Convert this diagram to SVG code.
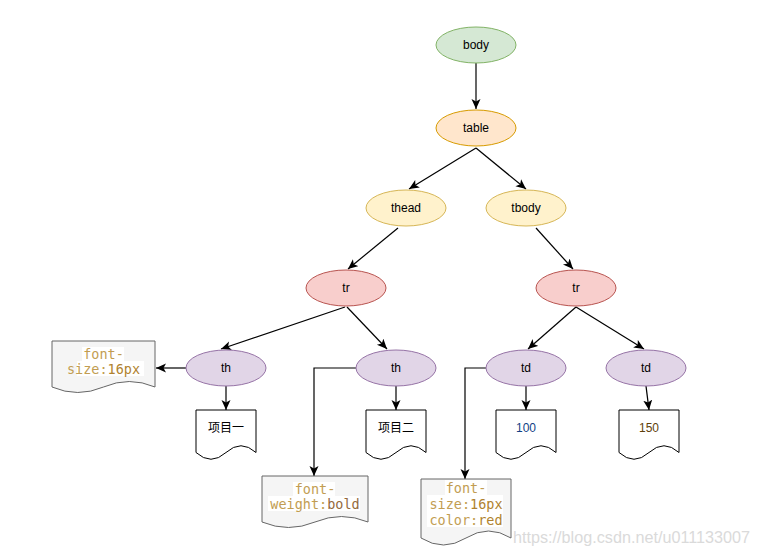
<svg xmlns="http://www.w3.org/2000/svg" width="759" height="555" viewBox="0 0 759 555">
<defs>
<marker id="arr" markerUnits="userSpaceOnUse" markerWidth="12" markerHeight="10" refX="10" refY="4.5" orient="auto">
<path d="M0,0 L10,4.5 L0,9 L2.5,4.5 Z" fill="#000"/>
</marker>
<style>
.lbl{font-family:Helvetica,"Liberation Sans",Arial,sans-serif;font-size:12px;fill:#000;text-anchor:middle;dominant-baseline:central}
.cjk{font-family:"Liberation Sans","Noto Sans CJK SC",sans-serif}
.edge{fill:none;stroke:#000;stroke-width:1.2;marker-end:url(#arr)}
.doc{fill:#fff;stroke:#000;stroke-width:1}
.code{fill:#f5f5f5;stroke:#666;stroke-width:1}
.mono{font-family:"DejaVu Sans Mono","Liberation Mono",monospace;font-size:13.5px;text-anchor:middle;dominant-baseline:central}
.k{fill:#c29d52}
.v{fill:#b0822e}
.b{fill:#94693d}
.hl{fill:#fff}
.green{fill:#d5e8d4;stroke:#82b366}
.orange{fill:#ffe6cc;stroke:#d79b00}
.yellow{fill:#fff2cc;stroke:#d6b656}
.red{fill:#f8cecc;stroke:#b85450}
.purple{fill:#e1d5e7;stroke:#9673a6}
</style>
</defs>
<rect width="759" height="555" fill="#fff"/>

<g id="connectors">
<line class="edge" x1="476" y1="63" x2="476" y2="109"/>
<line class="edge" x1="476" y1="148" x2="409" y2="189"/>
<line class="edge" x1="476" y1="148" x2="526" y2="189"/>
<line class="edge" x1="398" y1="228" x2="348" y2="269"/>
<line class="edge" x1="536" y1="228" x2="573" y2="269"/>
<line class="edge" x1="345" y1="307" x2="221" y2="349"/>
<line class="edge" x1="347" y1="307" x2="387" y2="349"/>
<line class="edge" x1="576" y1="307" x2="528" y2="349"/>
<line class="edge" x1="576" y1="307" x2="644" y2="349"/>
<line class="edge" x1="186" y1="368" x2="156" y2="368"/>
<line class="edge" x1="226" y1="386" x2="226" y2="410"/>
<line class="edge" x1="396" y1="386" x2="396" y2="410"/>
<path class="edge" d="M356,368 H314 V476"/>
<line class="edge" x1="526" y1="386" x2="526" y2="410"/>
<path class="edge" d="M486,368 H465 V479"/>
<line class="edge" x1="646" y1="386" x2="649" y2="410"/>
</g>

<g id="body"><ellipse class="green" cx="476" cy="45" rx="40" ry="18"/><text class="lbl" x="476" y="45">body</text></g>
<g id="table"><ellipse class="orange" cx="476" cy="128" rx="40" ry="18"/><text class="lbl" x="476" y="128">table</text></g>
<g id="thead"><ellipse class="yellow" cx="406" cy="208" rx="40" ry="18"/><text class="lbl" x="406" y="208">thead</text></g>
<g id="tbody"><ellipse class="yellow" cx="526" cy="208" rx="40" ry="18"/><text class="lbl" x="526" y="208">tbody</text></g>
<g id="tr1"><ellipse class="red" cx="346" cy="288" rx="40" ry="18"/><text class="lbl" x="346" y="288">tr</text></g>
<g id="tr2"><ellipse class="red" cx="576" cy="288" rx="40" ry="18"/><text class="lbl" x="576" y="288">tr</text></g>
<g id="th1"><ellipse class="purple" cx="226" cy="368" rx="40" ry="18"/><text class="lbl" x="226" y="368">th</text></g>
<g id="th2"><ellipse class="purple" cx="396" cy="368" rx="40" ry="18"/><text class="lbl" x="396" y="368">th</text></g>
<g id="td1"><ellipse class="purple" cx="526" cy="368" rx="40" ry="18"/><text class="lbl" x="526" y="368">td</text></g>
<g id="td2"><ellipse class="purple" cx="646" cy="368" rx="40" ry="18"/><text class="lbl" x="646" y="368">td</text></g>

<g id="doc-item1"><path class="doc" d="M196,410 H256 V452.5 Q241,439 226,452.5 Q211,466 196,452.5 Z"/><text class="lbl cjk" x="226" y="428">项目一</text></g>
<g id="doc-item2"><path class="doc" d="M366,410 H426 V452.5 Q411,439 396,452.5 Q381,466 366,452.5 Z"/><text class="lbl cjk" x="396" y="428">项目二</text></g>
<g id="doc-100"><path class="doc" d="M496,410 H556 V452.5 Q541,439 526,452.5 Q511,466 496,452.5 Z"/><text class="lbl" x="526" y="428" style="fill:#123f85">100</text></g>
<g id="doc-150"><path class="doc" d="M619,410 H679 V452.5 Q664,439 649,452.5 Q634,466 619,452.5 Z"/><text class="lbl" x="649" y="428" style="fill:#5e3f0a">150</text></g>

<g id="doc-fontsize">
<path class="code" d="M52,341 H155 V387 Q129.25,376 103.5,387 Q77.75,398 52,387 Z"/>
<rect class="hl" x="82" y="347" width="42" height="14"/>
<rect class="hl" x="77" y="361" width="67" height="15"/>
<text class="mono" x="103.5" y="354"><tspan class="k">font-</tspan></text>
<text class="mono" x="103.5" y="369"><tspan class="k">size:</tspan><tspan class="v">16px</tspan></text>
</g>

<g id="doc-fontweight">
<path class="code" d="M262,476 H368 V522 Q341.5,511 315,522 Q288.5,533 262,522 Z"/>
<rect class="hl" x="293" y="482" width="42" height="14"/>
<rect class="hl" x="268" y="496" width="92" height="15"/>
<text class="mono" x="315" y="489"><tspan class="k">font-</tspan></text>
<text class="mono" x="315" y="503.5"><tspan class="k">weight:</tspan><tspan class="b">bold</tspan></text>
</g>

<g id="doc-fontcolor">
<path class="code" d="M421,479 H511 V538 Q488.5,524 466,538 Q443.5,552 421,538 Z"/>
<rect class="hl" x="445" y="480" width="42" height="15"/>
<rect class="hl" x="427" y="495" width="76" height="16"/>
<rect class="hl" x="427" y="511" width="76" height="16"/>
<text class="mono" x="466" y="487.5"><tspan class="k">font-</tspan></text>
<text class="mono" x="466" y="503.5"><tspan class="k">size:</tspan><tspan class="v">16px</tspan></text>
<text class="mono" x="466" y="519.5"><tspan class="k">color:</tspan><tspan class="v">red</tspan></text>
</g>

<text x="513" y="543" style="font-family:'Liberation Sans',Arial,sans-serif;font-size:16.2px;fill:#dadada">https://blog.csdn.net/u011133007</text>
</svg>
